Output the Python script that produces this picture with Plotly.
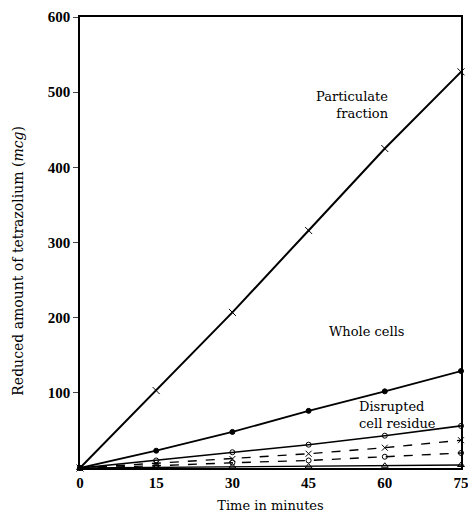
import plotly.graph_objects as go

time_min = [0, 15, 30, 45, 60, 75]
particulate = [0, 103, 207, 316, 425, 527]
whole_cells = [0, 23, 48, 76, 102, 129]
disrupted = [0, 10, 21, 31, 43, 56]
dashed_x = [0, 6, 12, 19, 27, 37]
dashed_o = [0, 3, 7, 10, 15, 20]
triangles = [0, 1, 2, 2, 3, 4]

x_ticks = [0, 15, 30, 45, 60, 75]
y_ticks = [100, 200, 300, 400, 500, 600]

fig = go.Figure()

def add(y, symbol, dash, width=1.6, msize=6):
    fig.add_trace(go.Scatter(
        x=time_min, y=y, mode="lines+markers",
        line=dict(color="black", width=width, dash=dash),
        marker=dict(symbol=symbol, size=msize, color="black",
                    line=dict(color="black", width=1)),
        showlegend=False, cliponaxis=False))

add(particulate, "x-thin", "solid", 2.0, 7)
add(whole_cells, "circle", "solid", 1.8, 5)
add(disrupted, "circle-open", "solid", 1.6, 5)
add(dashed_x, "x-thin", "dash", 1.4, 6)
add(dashed_o, "circle-open", "dash", 1.4, 5)
add(triangles, "triangle-up-open", "solid", 1.4, 6)

serif = "DejaVu Serif"
ann_font = dict(family=serif, size=13, color="black")
fig.add_annotation(x=61.2, y=483, text="Particulate<br>fraction", showarrow=False,
                   xanchor="right", align="right", font=ann_font)
fig.add_annotation(x=56.5, y=181, text="Whole cells", showarrow=False,
                   xanchor="center", font=ann_font)
fig.add_annotation(x=54.5, y=71, text="Disrupted<br>cell residue", showarrow=False,
                   xanchor="left", align="left", font=ann_font)

# y-axis title placed as rotated annotation (paper coordinates)
fig.add_annotation(xref="paper", yref="paper", x=-0.165, y=0.46,
                   text="Reduced amount of tetrazolium (<i>mcg</i>)", textangle=-90,
                   showarrow=False, xanchor="center", yanchor="middle",
                   font=dict(family=serif, size=14, color="black"))

fig.update_layout(
    width=468, height=513,
    margin=dict(l=80, r=7, t=17, b=45),
    paper_bgcolor="white", plot_bgcolor="white",
    font=dict(family=serif, color="black"),
    xaxis=dict(range=[0, 75], tickvals=x_ticks, ticks="", showgrid=False, zeroline=False,
               showline=True, linecolor="black", linewidth=1.5, mirror=True, automargin=False,
               ticklabeloverflow="allow",
               tickfont=dict(family="Liberation Serif", size=15, weight="bold"),
               title=dict(text="Time in minutes", font=dict(family=serif, size=13), standoff=13)),
    yaxis=dict(range=[0, 600], tickvals=y_ticks, ticks="outside", ticklen=5, tickwidth=1,
               showgrid=False, zeroline=False, automargin=False,
               showline=True, linecolor="black", linewidth=1.5, mirror=True,
               tickfont=dict(family="Liberation Serif", size=15, weight="bold")),
    yaxis2=dict(range=[0, 600], overlaying="y", side="right", tickvals=y_ticks[:-1],
                ticks="inside", ticklen=5, tickwidth=1, showticklabels=False, automargin=False,
                showgrid=False, zeroline=False, showline=False),
)

fig.write_html("out.html", config={"displayModeBar": False},
               post_script="document.body.style.margin='0';")
